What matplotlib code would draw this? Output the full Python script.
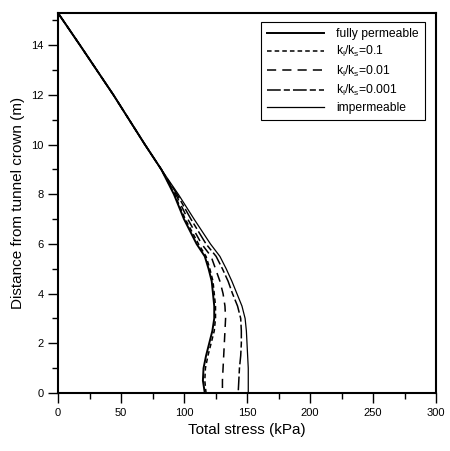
import matplotlib
matplotlib.use("Agg")
import matplotlib.pyplot as plt
from matplotlib.ticker import MultipleLocator

plt.rcParams['font.family'] = ['Liberation Sans', 'DejaVu Sans']
plt.rcParams['mathtext.default'] = 'regular'

# depth levels (m) and total stress (kPa) for each case
depth = [15.3, 14, 12, 10, 9, 8, 7, 6, 5.5, 5, 4.5, 4, 3.5, 3, 2.5, 2, 1.5, 1, 0.5, 0]
fully_perm = [0, 17.5, 44, 69, 82, 92, 100, 110, 116.5, 119.5, 122, 123, 124, 124, 122.5, 120, 117.5, 115.5, 115, 116.5]
k_01 = [0, 17.5, 44, 69, 82, 92.5, 101, 111.5, 117.5, 120.5, 123, 124, 125, 125, 124, 121.5, 119, 117, 116.5, 117.5]
k_001 = [0, 17.5, 44, 69, 82, 93.5, 103, 114, 121.5, 125, 128.5, 131, 132.5, 133, 132.5, 132, 131.5, 131, 130.5, 130.5]
k_0001 = [0, 17.5, 44, 69, 82, 94.5, 105.5, 117.5, 125.5, 130.5, 135, 138.5, 142.5, 145, 145.5, 145.5, 145, 144, 143.5, 143]
imperm = [0, 17.5, 44, 69, 82, 95.5, 108, 121, 128.5, 133.5, 138, 142, 146, 148.5, 149.5, 150, 150.5, 151, 151, 151]

fig = plt.figure(figsize=(4.5, 4.51), dpi=100)
ax = fig.add_axes([0.1289, 0.1286, 0.84, 0.8426])

ax.plot(fully_perm, depth, color='black', lw=1.4, label='fully permeable')
ax.plot(k_01, depth, color='black', lw=1.1, dashes=(3, 2), label='k$_l$/k$_s$=0.1')
ax.plot(k_001, depth, color='black', lw=1.1, dashes=(6, 4), label='k$_l$/k$_s$=0.01')
ax.plot(k_0001, depth, color='black', lw=1.1, dashes=(9, 2, 4, 2), label='k$_l$/k$_s$=0.001')
ax.plot(imperm, depth, color='black', lw=0.9, label='impermeable')

ax.set_xlim(0, 300)
ax.set_ylim(0, 15.3)
ax.xaxis.set_major_locator(MultipleLocator(50))
ax.xaxis.set_minor_locator(MultipleLocator(25))
ax.yaxis.set_major_locator(MultipleLocator(2))
ax.yaxis.set_minor_locator(MultipleLocator(1))
ax.tick_params(which='both', direction='out', labelsize=8, width=1, color='black')
ax.tick_params(which='major', length=7)
ax.tick_params(which='minor', length=4)
for s in ax.spines.values():
    s.set_linewidth(1.5)

ax.set_xlabel('Total stress (kPa)', fontsize=11)
ax.set_ylabel('Distance from tunnel crown (m)', fontsize=11)

leg = ax.legend(loc='upper right', bbox_to_anchor=(0.97, 0.976), fontsize=8.7,
                handlelength=4.7, fancybox=False, edgecolor='black',
                framealpha=1, borderaxespad=0, labelspacing=0.35,
                borderpad=0.5, handletextpad=1.0)
leg.get_frame().set_linewidth(0.8)

fig.savefig('out.png', dpi=100)
